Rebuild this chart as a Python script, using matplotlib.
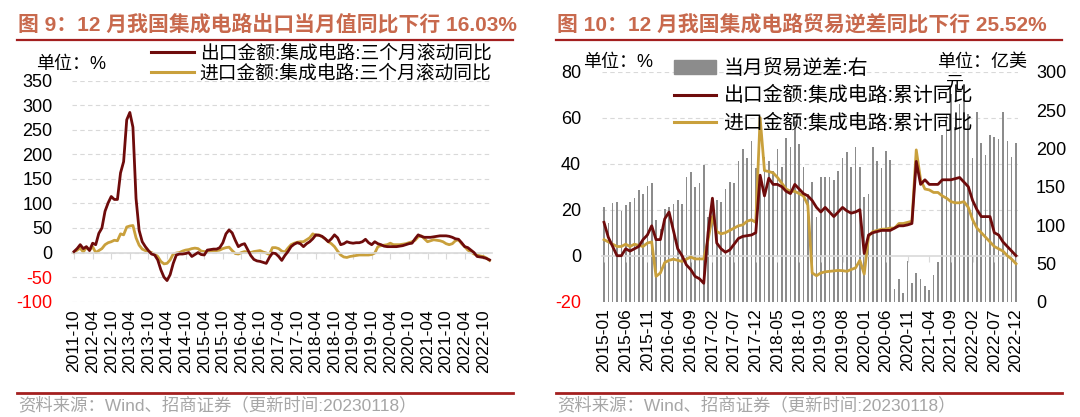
import matplotlib
matplotlib.use('Agg')
import matplotlib.pyplot as plt
from matplotlib.lines import Line2D
from matplotlib.patches import Patch
import numpy as np

plt.rcParams['font.family'] = ['Liberation Sans', 'Noto Sans CJK SC']
plt.rcParams['axes.unicode_minus'] = False

# --- 图9：三个月滚动同比, 2011-10 ~ 2022-12 (月度) ---
ticks_l = ['2011-10', '2012-04', '2012-10', '2013-04', '2013-10', '2014-04', '2014-10',
           '2015-04', '2015-10', '2016-04', '2016-10', '2017-04', '2017-10', '2018-04',
           '2018-10', '2019-04', '2019-10', '2020-04', '2020-10', '2021-04', '2021-10',
           '2022-04', '2022-10']
export_3m = [2, 8, 16, 8, 12, 4, 19, 16, 39, 50, 84, 101, 114, 108, 108, 162, 185, 270, 285, 255,
             110, 45, 22, 12, 4, -3, -5, -15, -35, -50, -57, -45, -22, -5, -3, -3, -2, 0, -8, -4,
             0, -4, -5, 5, 6, 7, 7, 10, 20, 38, 46, 40, 25, 12, 16, 18, 6, -6, -14, -17,
             -18, -20, -22, -10, -1, -2, -8, -16, -6, 2, 12, 17, 20, 18, 12, 18, 22, 28, 36, 35,
             33, 28, 22, 28, 36, 30, 16, 18, 22, 20, 19, 20, 20, 22, 27, 20, 16, 22, 18, 16,
             13, 12, 12, 12, 12, 13, 14, 16, 18, 19, 28, 36, 33, 31, 31, 31, 32, 33, 34, 34,
             34, 33, 31, 28, 27, 20, 12, 10, 5, 0, -8, -9, -10, -12, -15]
import_3m = [0, 5, 9, 1, 11, 5, 12, 0, 4, 8, 16, 20, 22, 25, 24, 38, 36, 52, 54, 55,
             30, 15, 7, 4, 2, 0, -3, -8, -18, -23, -22, -15, -3, -1, 0, 3, 5, 6, 8, 9,
             8, 3, 2, 2, 3, 4, 4, 5, 8, 10, 11, 4, -2, -3, 0, 2, 1, 0, 2, 3,
             4, 1, -1, -4, 10, 10, 8, 3, 1, 9, 16, 19, 21, 22, 22, 26, 30, 38, 35, 36,
             32, 28, 22, 18, 12, 3, -5, -9, -10, -8, -7, -6, -5, -5, -5, -5, -4, -1, 12, 14,
             15, 16, 19, 16, 16, 16, 17, 18, 20, 22, 25, 32, 34, 28, 22, 24, 26, 25, 24, 22,
             18, 16, 18, 24, 26, 18, 12, 5, 1, -3, -5, -7, -8, -11, -16]

# --- 图10：累计同比(左, %) 与 当月贸易逆差(右, 亿美元), 2015-01 ~ 2022-12 ---
ticks_r = ['2015-01', '2015-06', '2015-11', '2016-04', '2016-09', '2017-02', '2017-07',
           '2017-12', '2018-05', '2018-10', '2019-03', '2019-08', '2020-01', '2020-06',
           '2020-11', '2021-04', '2021-09', '2022-02', '2022-07', '2022-12']
deficit = [124, 103, 129, 130, 118, 126, 130, 135, 146, 141, 151, 155,
           106, 95, 121, 124, 127, 133, 128, 163, 169, 150, 155, 178,
           110, 137, 133, 130, 147, 156, 155, 183, 199, 188, 209, 175,
           165, 189, 184, 170, 199, 176, 214, 202, 236, 206, 176, 140,
           156, 111, 163, 163, 163, 159, 171, 188, 195, 176, 202, 176,
           137, 140, 202, 184, 175, 197, 185, 16, 29, 11, 53, 25,
           37, 30, 20, 15, 35, 52, 218, 245, 271, 228, 258, 271,
           245, 188, 247, 207, 191, 218, 215, 212, 247, 209, 189, 207]
export_cum = [14.5, 8, 4, 0, 0, 3, 2, 3, 4, 7, 9, 13,
              7, 7, 16, 19, 11, 3, 0, -4, -6, -9, -10, -12,
              10, 25, 5.5, 3, 1.5, 2.5, 5, 7.5, 8.4, 8.7, 9, 10,
              35, 26, 33.7, 31, 31, 30, 28, 27, 31, 29, 27, 26,
              24, 21, 19, 21, 19, 17, 19, 21, 19.5, 18.5, 19, 20,
              1, 9, 10, 10.5, 11, 11, 11, 12, 13, 13, 13.4, 14,
              41, 31, 33, 31, 31, 31, 33, 33, 33, 33.5, 34, 32,
              30, 24, 20, 17, 17, 17, 10, 9, 6, 4, 2, 0]
import_cum = [7, 6, 5, 4, 4, 5, 4, 5, 4.5, 4, 5.5, 6,
              -9, -7.5, -3, -2, -1.5, -2, -2.5, -1.5, -0.6, -1.4, -1.4, -1.4,
              7, 17, 10.5, 9.5, 10, 11, 12, 13, 13.4, 15, 15.6, 14.5,
              60, 37, 36.6, 36, 34, 31.5, 29, 28, 28, 27, 26, 22,
              -7.5, -8.7, -7.5, -7, -6.8, -6.6, -6.4, -6.5, -6.8, -6, -5.3, -2,
              -8, 8.4, 10.5, 11, 11.5, 11.6, 12, 12, 14, 14, 14.5, 15,
              46, 33, 29, 28.6, 27.5, 27.5, 26, 25, 23.5, 23, 23, 23.5,
              21, 15.6, 12, 10, 8, 6, 4, 3, 2, 0, -1.5, -3.5]

RED = '#6E0B0B'
GOLD = '#C9A03C'
TITLE_C = '#C8694D'
LINE_C = '#A31F1F'

W, H = 1080, 417
fig = plt.figure(figsize=(W / 100, H / 100), dpi=100)


def box(x0, y0, x1, y1):
    return [x0 / W, 1 - y1 / H, (x1 - x0) / W, (y1 - y0) / H]


def hline(x0, x1, y, color, lw):
    fig.add_artist(Line2D([x0 / W, x1 / W], [1 - y / H, 1 - y / H], color=color, lw=lw))


def style_yticks(ax, neg_color='red'):
    for t in ax.get_yticklabels():
        if t.get_text().startswith('-'):
            t.set_color(neg_color)


# ---------------- 左图 ----------------
axl = fig.add_axes(box(72, 80.5, 492, 301.7))
xl = np.arange(len(export_3m))
axl.plot(xl, export_3m, color=RED, lw=2.0, zorder=3)
axl.plot(xl, import_3m, color=GOLD, lw=2.0, zorder=2)
axl.set_xlim(-0.65, 134.8)
axl.set_ylim(-100, 350)
axl.set_yticks(np.arange(-100, 351, 50))
axl.set_yticklabels([str(v) for v in range(-100, 351, 50)])
axl.grid(axis='y', color='#D9D9D9', ls=(0, (4, 3)), lw=0.8)
axl.set_axisbelow(True)
for s in ['top', 'right', 'left']:
    axl.spines[s].set_visible(False)
axl.spines['bottom'].set_position(('data', 0))
axl.spines['bottom'].set_color('#D9D9D9')
axl.spines['bottom'].set_linewidth(1.2)
axl.set_xticks(np.arange(0, 135, 6))
axl.set_xticklabels(ticks_l, rotation=90, fontsize=12.5)
axl.tick_params(axis='x', length=4, color='#D9D9D9', pad=37)
axl.tick_params(axis='y', length=0, labelsize=13, pad=14)
style_yticks(axl)
axl.legend([Line2D([], [], color=RED, lw=2.2), Line2D([], [], color=GOLD, lw=2.2)],
           ['出口金额:集成电路:三个月滚动同比', '进口金额:集成电路:三个月滚动同比'],
           loc='upper left', bbox_to_anchor=(151 / W, 1 - 45 / H), bbox_transform=fig.transFigure,
           frameon=False, fontsize=13.5, handlelength=2.3, handletextpad=0.3,
           labelspacing=0.12, borderaxespad=0, borderpad=0)
fig.text(36 / W, 1 - 64 / H, '单位：%', fontsize=13, va='center', ha='left')

# ---------------- 右图 ----------------
axr = fig.add_axes(box(602, 71.7, 1018, 301.7))
axb = axr.twinx()
xr = np.arange(len(deficit))
axb.bar(xr, deficit, width=0.38, color='#8C8C8C', zorder=1)
axb.set_ylim(0, 300)
axb.set_yticks(np.arange(0, 301, 50))
axr.set_zorder(axb.get_zorder() + 1)
axr.patch.set_visible(False)
axr.plot(xr, export_cum, color=RED, lw=2.0, zorder=3)
axr.plot(xr, import_cum, color=GOLD, lw=2.0, zorder=2)
axr.set_xlim(-0.46, 95.46)
axr.set_ylim(-20, 80)
axr.set_yticks(np.arange(-20, 81, 20))
axr.set_yticklabels([str(v) for v in range(-20, 81, 20)])
axb.grid(False)
for v in [20, 40, 60, 80]:
    axb.axhline((v + 20) * 3, color='#D9D9D9', ls=(0, (4, 3)), lw=0.8, zorder=0)
for a in (axr, axb):
    for s in ['top', 'right', 'left']:
        a.spines[s].set_visible(False)
axb.spines['bottom'].set_visible(False)
axr.spines['bottom'].set_position(('data', 0))
axr.spines['bottom'].set_color('#D9D9D9')
axr.spines['bottom'].set_linewidth(1.2)
axr.spines['bottom'].set_zorder(0)
axr.set_xticks(np.arange(0, 96, 5))
axr.set_xticklabels(ticks_r, rotation=90, fontsize=12.5)
axr.tick_params(axis='x', length=4, color='#D9D9D9', pad=34)
axr.tick_params(axis='y', length=0, labelsize=13, pad=15)
axb.tick_params(axis='y', length=0, labelsize=13, pad=13)
style_yticks(axr)
axr.legend([Patch(color='#8C8C8C'), Line2D([], [], color=RED, lw=2.2), Line2D([], [], color=GOLD, lw=2.2)],
           ['当月贸易逆差:右', '出口金额:集成电路:累计同比', '进口金额:集成电路:累计同比'],
           loc='upper left', bbox_to_anchor=(674 / W, 1 - 59 / H), bbox_transform=fig.transFigure,
           frameon=False, fontsize=14.3, handlelength=2.1, handletextpad=0.4,
           labelspacing=0.42, borderaxespad=0, borderpad=0)
fig.text(583 / W, 1 - 62 / H, '单位：%', fontsize=13, va='center', ha='left')
fig.text(937 / W, 1 - 62 / H, '单位：亿美', fontsize=13, va='center', ha='left')
fig.text(945 / W, 1 - 84 / H, '元', fontsize=13, va='center', ha='left')

# ---------------- 标题与来源 ----------------
fig.text(18 / W, 1 - 25 / H, '图 9：12 月我国集成电路出口当月值同比下行 16.03%',
         fontsize=15, fontweight='bold', color=TITLE_C, va='center', ha='left')
fig.text(557 / W, 1 - 25 / H, '图 10：12 月我国集成电路贸易逆差同比下行 25.52%',
         fontsize=15, fontweight='bold', color=TITLE_C, va='center', ha='left')
hline(17, 513, 40, LINE_C, 1.6)
hline(556, 1062, 40, LINE_C, 1.6)
hline(17, 513, 393, LINE_C, 2.0)
hline(556, 1062, 393, LINE_C, 2.0)
fig.text(18 / W, 1 - 405 / H, '资料来源：Wind、招商证券（更新时间:20230118）',
         fontsize=12.5, color='#A6A6A6', va='center', ha='left')
fig.text(557 / W, 1 - 405 / H, '资料来源：Wind、招商证券（更新时间:20230118）',
         fontsize=12.5, color='#A6A6A6', va='center', ha='left')

fig.savefig('out.png', dpi=100)
